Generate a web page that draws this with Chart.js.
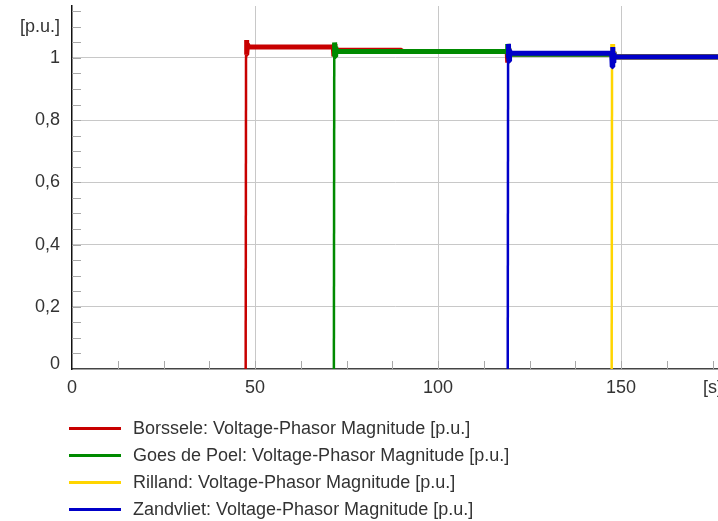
<!DOCTYPE html>
<html><head><meta charset="utf-8">
<script src="https://cdn.jsdelivr.net/npm/chart.js@4.4.1/dist/chart.umd.min.js"></script>
<style>
html,body{margin:0;padding:0;background:#fff;}
#wrap{position:relative;width:718px;height:521px;overflow:hidden;background:#fff;}
#c{position:absolute;left:0;top:0;}
#legend{position:absolute;left:0;top:415px;font-family:"Liberation Sans",Arial,sans-serif;font-size:18px;color:#333;}
.row{position:relative;height:27px;line-height:27px;white-space:nowrap;width:718px;}
.sw{position:absolute;left:69px;top:12px;width:52px;height:3px;}
.tx{position:absolute;left:133px;top:0;}
</style></head><body>
<div id="wrap"><canvas id="c" width="718" height="521" style="width:718px;height:521px"></canvas><div id="legend"></div></div>
<script>
// ---- data ----
const seriesNames = [
  "Borssele: Voltage-Phasor Magnitude [p.u.]",
  "Goes de Poel: Voltage-Phasor Magnitude [p.u.]",
  "Rilland: Voltage-Phasor Magnitude [p.u.]",
  "Zandvliet: Voltage-Phasor Magnitude [p.u.]"
];
const seriesColors = ["#c80000", "#008a00", "#ffd500", "#0000c8"];

const borsseleTime  = [47.45, 47.55, 47.65, 47.8, 47.95, 48.2, 71.4, 71.55, 71.7, 71.85, 72.0, 90.0, 90.2, 118.9, 119.05, 119.2, 119.35, 119.5, 147.6, 147.75, 147.9, 148.05, 148.3, 178];
const borsseleValue = [0, 1.01, 1.058, 1.01, 1.045, 1.035, 1.035, 1.005, 1.045, 1.01, 1.025, 1.025, 1.021, 1.021, 0.985, 1.03, 1.0, 1.013, 1.013, 0.995, 1.02, 1.0, 1.004, 1.004];

const goesTime  = [71.55, 71.65, 71.75, 71.9, 72.05, 72.3, 118.9, 119.05, 119.2, 119.35, 119.5, 147.6, 147.75, 147.9, 148.05, 148.3, 178];
const goesValue = [0, 1.005, 1.05, 1.005, 1.035, 1.021, 1.021, 1.045, 1.0, 1.03, 1.013, 1.012, 0.995, 1.02, 1.0, 1.003, 1.003];

const rillandTime  = [147.45, 147.55, 147.65, 147.8, 147.95, 148.2, 178];
const rillandValue = [0, 1.0, 1.045, 0.99, 1.02, 1.002, 1.002];

const zandvlietTime  = [119.05, 119.15, 119.25, 119.4, 119.55, 119.8, 147.45, 147.6, 147.75, 147.9, 148.05, 148.3, 178];
const zandvlietValue = [0, 1.0, 1.045, 0.99, 1.025, 1.015, 1.015, 0.972, 1.035, 0.985, 1.015, 1.003, 1.003];

const xTickValues = [0, 50, 100, 150, 175];
const xTickLabels = ["0", "50", "100", "150", "[s]"];
const yTickValues = [0, 0.2, 0.4, 0.6, 0.8, 1.0, 1.1];
const yTickLabels = ["0", "0,2", "0,4", "0,6", "0,8", "1", "[p.u.]"];
const xGridValues = [50, 100, 150];
const yGridValues = [0.2, 0.4, 0.6, 0.8, 1.0];
const xMinorStep = 12.5;
const yMinorStep = 0.05;

// ---- chart ----
const times = [borsseleTime, goesTime, rillandTime, zandvlietTime];
const values = [borsseleValue, goesValue, rillandValue, zandvlietValue];
const drawOrder = [4, 3, 2, 1];

const datasets = seriesNames.map((name, i) => ({
  label: name,
  data: times[i].map((t, j) => ({x: t, y: values[i][j]})),
  borderColor: seriesColors[i],
  backgroundColor: seriesColors[i],
  borderWidth: 5,
  borderJoinStyle: 'bevel',
  borderCapStyle: 'butt',
  pointRadius: 0,
  tension: 0,
  fill: false,
  order: drawOrder[i],
  segment: {
    borderWidth: ctx => Math.abs(ctx.p1.parsed.y - ctx.p0.parsed.y) > 0.3 ? 2.5 : 5
  }
}));

const font = {family: '"Liberation Sans", Arial, sans-serif', size: 18};
const textColor = '#333';

const minorTicks = {
  id: 'minorTicks',
  beforeDatasetsDraw(chart) {
    const {ctx, chartArea: a, scales: {x, y}} = chart;
    ctx.save();
    ctx.strokeStyle = '#a8a8a8';
    ctx.lineWidth = 1;
    ctx.beginPath();
    for (let i = 1; i * yMinorStep <= y.max + 1e-9; i++) {
      const py = Math.round(y.getPixelForValue(i * yMinorStep)) + 0.5;
      ctx.moveTo(a.left, py); ctx.lineTo(a.left + 9, py);
    }
    for (let i = 1; i * xMinorStep <= x.max + 1e-9; i++) {
      const px = Math.round(x.getPixelForValue(i * xMinorStep)) + 0.5;
      ctx.moveTo(px, a.bottom); ctx.lineTo(px, a.bottom - 8);
    }
    ctx.stroke();
    ctx.restore();
  }
};

new Chart(document.getElementById('c'), {
  type: 'line',
  data: {datasets},
  plugins: [minorTicks],
  options: {
    responsive: false,
    animation: false,
    layout: {padding: {top: 6, right: 0, bottom: 122, left: 0}},
    plugins: {legend: {display: false}, tooltip: {enabled: false}},
    scales: {
      x: {
        type: 'linear', min: 0, max: 176.5,
        border: {color: '#444', width: 1.5},
        grid: {
          drawTicks: false,
          color: ctx => (ctx.tick && xGridValues.includes(ctx.tick.value)) ? '#c8c8c8' : 'rgba(0,0,0,0)'
        },
        ticks: {
          font, color: textColor, padding: 8, maxRotation: 0, autoSkip: false,
          callback: (v) => { const k = xTickValues.indexOf(v); return k >= 0 ? xTickLabels[k] : ''; }
        },
        afterBuildTicks: s => { s.ticks = xTickValues.map(v => ({value: v})); },
        afterFit: s => { s.height = 30; s.paddingLeft = 0; s.paddingRight = 0; }
      },
      y: {
        type: 'linear', min: 0, max: 1.167,
        border: {color: '#111', width: 1.5},
        grid: {
          drawTicks: false,
          color: ctx => (ctx.tick && yGridValues.some(g => Math.abs(g - ctx.tick.value) < 1e-6)) ? '#c8c8c8' : 'rgba(0,0,0,0)'
        },
        ticks: {
          color: textColor, padding: 12, autoSkip: false,
          font: ctx => (ctx.tick && ctx.tick.value === 0) ? {...font, lineHeight: 0.56} : font,
          callback: (v) => {
            const k = yTickValues.findIndex(t => Math.abs(t - v) < 1e-6);
            if (k < 0) return '';
            return v === 0 ? [yTickLabels[k], ''] : yTickLabels[k];
          }
        },
        afterBuildTicks: s => { s.ticks = yTickValues.map(v => ({value: v})); },
        afterFit: s => { s.width = 72; s.paddingTop = 0; s.paddingBottom = 0; }
      }
    }
  }
});

// ---- legend ----
const lg = document.getElementById('legend');
seriesNames.forEach((n, i) => {
  const r = document.createElement('div'); r.className = 'row';
  const sw = document.createElement('div'); sw.className = 'sw'; sw.style.background = seriesColors[i];
  const tx = document.createElement('div'); tx.className = 'tx'; tx.textContent = n;
  r.appendChild(sw); r.appendChild(tx); lg.appendChild(r);
});
</script>
</body></html>
